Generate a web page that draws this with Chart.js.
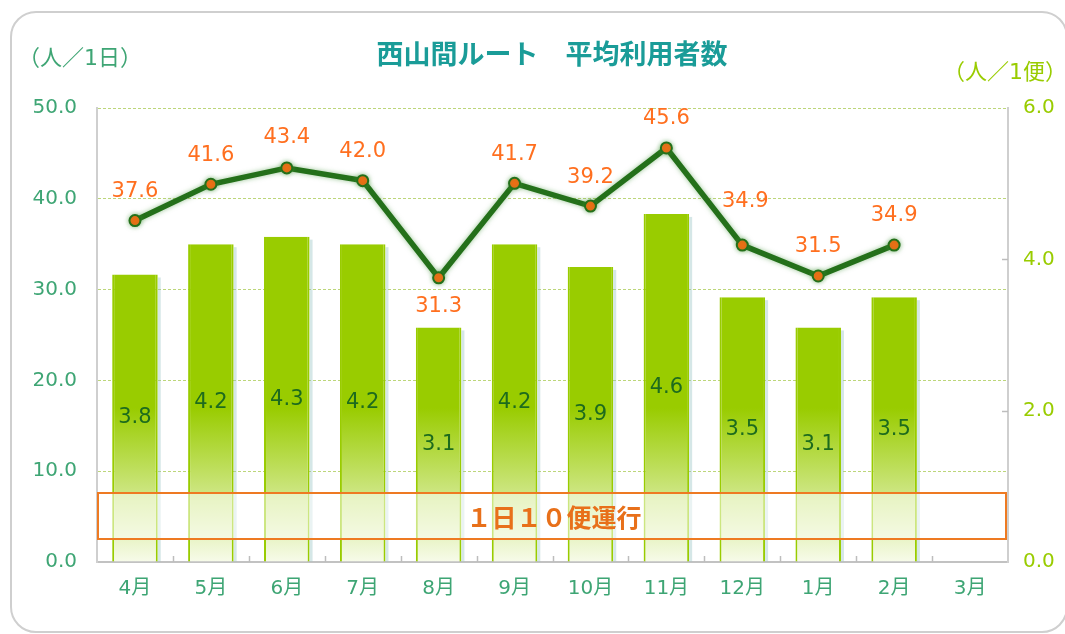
<!DOCTYPE html>
<html>
<head>
<meta charset="utf-8">
<script src="https://cdn.jsdelivr.net/npm/chart.js@4.4.1/dist/chart.umd.min.js"></script>
<style>
  html, body { margin: 0; padding: 0; background: #fff; }
  #wrap { position: relative; width: 1065px; height: 634px; overflow: hidden; }
  #frame { position: absolute; left: 10px; top: 11px; width: 1058px; height: 622px;
           border: 2px solid #cfcfcf; border-radius: 26px; box-sizing: border-box; }
  canvas { position: absolute; left: 0; top: 0; }
</style>
</head>
<body>
<div id="wrap">
  <div id="frame"></div>
  <canvas id="myChart" width="1065" height="634"></canvas>
</div>
<script>
const months = ['4月', '5月', '6月', '7月', '8月', '9月', '10月', '11月', '12月', '1月', '2月', '3月'];
const perDay = [37.6, 41.6, 43.4, 42.0, 31.3, 41.7, 39.2, 45.6, 34.9, 31.5, 34.9, null];   // 人／1日
const perTrip = [3.8, 4.2, 4.3, 4.2, 3.1, 4.2, 3.9, 4.6, 3.5, 3.1, 3.5, null];             // 人／1便
const chartTitle = '西山間ルート　平均利用者数';
const leftUnit = '（人／1日）';
const rightUnit = '（人／1便）';
const noteText = '１日１０便運行';

// where each line label sits relative to its point (px, negative = above)
const lineLabelShift = [-29, -29, -30, -29, 29, -29, -29, -29, -44, -29, -30, -29];

const FONT = '"DejaVu Sans", "Noto Sans CJK JP", sans-serif';
const CJK = '"Noto Sans CJK JP", sans-serif';
const TEAL = '#3ea574';
const LIME = '#99cc00';
const LINE_GREEN = '#24701a';

// bar fill fades out toward the bottom of the plot area
function barFill(context) {
    const area = context.chart.chartArea;
    if (!area) return LIME;
    const g = context.chart.ctx.createLinearGradient(0, area.top + 300, 0, area.bottom);
    g.addColorStop(0, LIME);
    g.addColorStop(1, '#f7fbea');
    return g;
}

const extras = {
    id: 'extras',
    beforeDatasetDraw(chart, args) {
        const ctx = chart.ctx;
        if (args.index === 0) {
            // soft glow on the line
            ctx.save();
            ctx.shadowColor = 'rgba(70,150,60,0.55)';
            ctx.shadowBlur = 5;
        } else {
            // faint shadow on the right side of bars
            ctx.save();
            ctx.fillStyle = 'rgba(150,195,195,0.4)';
            chart.getDatasetMeta(1).data.forEach(function(bar, i) {
                if (perTrip[i] == null) return;
                ctx.fillRect(bar.x + bar.width / 2, bar.y + 3, 3, bar.base - bar.y - 3);
            });
            ctx.restore();
        }
    },
    afterDatasetDraw(chart, args) {
        if (args.index === 0) chart.ctx.restore();
    },
    afterDatasetsDraw(chart) {
        const ctx = chart.ctx;
        const area = chart.chartArea;

        // note box
        ctx.save();
        const bx = area.left + 1, by = 493, bw = area.right - area.left - 3, bh = 46;
        ctx.fillStyle = 'rgba(255,255,255,0.5)';
        ctx.fillRect(bx, by, bw, bh);
        ctx.strokeStyle = '#ee7a22';
        ctx.lineWidth = 2;
        ctx.strokeRect(bx, by, bw, bh);
        ctx.fillStyle = '#e8701a';
        ctx.font = 'bold 25px ' + CJK;
        ctx.textAlign = 'center';
        ctx.textBaseline = 'middle';
        ctx.fillText(noteText, 554, by + bh / 2 + 1);
        ctx.restore();

        // bar labels
        ctx.save();
        ctx.font = '21px ' + FONT;
        ctx.fillStyle = '#1d6b1d';
        ctx.textAlign = 'center';
        ctx.textBaseline = 'middle';
        chart.getDatasetMeta(1).data.forEach(function(bar, i) {
            if (perTrip[i] == null) return;
            ctx.fillText(perTrip[i].toFixed(1), bar.x, (bar.y + bar.base) / 2);
        });
        ctx.restore();

        // line labels
        ctx.save();
        ctx.font = '21px ' + FONT;
        ctx.fillStyle = '#ff6f1f';
        ctx.textAlign = 'center';
        ctx.textBaseline = 'middle';
        chart.getDatasetMeta(0).data.forEach(function(pt, i) {
            if (perDay[i] == null) return;
            ctx.fillText(perDay[i].toFixed(1), pt.x + (i === 8 ? 3 : 0), pt.y + lineLabelShift[i]);
        });
        ctx.restore();

        // small tick marks between categories, pointing up from the bottom axis
        ctx.save();
        ctx.strokeStyle = '#bdbdbd';
        ctx.lineWidth = 1.5;
        const step = (area.right - area.left) / months.length;
        for (let i = 1; i < months.length; i++) {
            const x = Math.round(area.left + step * i) + 0.5;
            ctx.beginPath();
            ctx.moveTo(x, area.bottom);
            ctx.lineTo(x, area.bottom - 6);
            ctx.stroke();
        }
        // right-axis ticks
        const yR = chart.scales.y1;
        [2, 4].forEach(function(v) {
            const y = Math.round(yR.getPixelForValue(v)) + 0.5;
            ctx.beginPath();
            ctx.moveTo(area.right, y);
            ctx.lineTo(area.right - 6, y);
            ctx.stroke();
        });
        ctx.restore();

        // titles
        ctx.save();
        ctx.textBaseline = 'middle';
        ctx.font = 'bold 27px ' + CJK;
        ctx.fillStyle = '#1a9c98';
        ctx.textAlign = 'center';
        ctx.fillText(chartTitle, 552, 54);
        ctx.font = '22px ' + FONT;
        ctx.fillStyle = TEAL;
        ctx.textAlign = 'left';
        ctx.fillText(leftUnit, 18, 59);
        ctx.fillStyle = LIME;
        ctx.textAlign = 'right';
        ctx.fillText(rightUnit, 1067, 73);
        ctx.restore();
    }
};

const ctx = document.getElementById('myChart').getContext('2d');
new Chart(ctx, {
    data: {
        labels: months,
        datasets: [{
            type: 'line',
            data: perDay,
            yAxisID: 'y',
            order: 0,
            borderColor: LINE_GREEN,
            borderWidth: 5.5,
            tension: 0,
            pointRadius: 5.5,
            pointBackgroundColor: '#ff6a10',
            pointBorderColor: LINE_GREEN,
            pointBorderWidth: 2,
            spanGaps: false
        }, {
            type: 'bar',
            data: perTrip,
            yAxisID: 'y1',
            order: 1,
            backgroundColor: barFill,
            borderColor: LIME,
            borderWidth: { left: 2, right: 2, top: 0, bottom: 0 },
            borderSkipped: false,
            barPercentage: 0.6,
            categoryPercentage: 1.0
        }]
    },
    options: {
        responsive: false,
        animation: false,
        layout: { padding: { top: 108, left: 0, right: 0, bottom: 0 } },
        plugins: { legend: { display: false }, tooltip: { enabled: false }, title: { display: false } },
        scales: {
            x: {
                offset: true,
                grid: { display: true, drawOnChartArea: false, drawTicks: false },
                border: { color: '#c2c2c2', width: 2 },
                ticks: { color: TEAL, font: { family: FONT, size: 20 }, padding: 15 },
                afterFit(scale) { scale.height = 72; }
            },
            y: {
                position: 'left',
                min: 0, max: 50,
                ticks: { stepSize: 10, color: TEAL, font: { family: FONT, size: 20 }, padding: 20,
                         callback: v => v.toFixed(1) },
                grid: { color: '#bcd67a', lineWidth: 1, drawTicks: false },
                border: { color: '#cfcfcf', width: 2, dash: [3, 2] },
                afterFit(scale) { scale.width = 97; }
            },
            y1: {
                position: 'right',
                min: 0, max: 6,
                ticks: { stepSize: 2, color: LIME, font: { family: FONT, size: 20 }, padding: 15,
                         callback: v => v.toFixed(1) },
                grid: { drawOnChartArea: false, drawTicks: false },
                border: { color: '#cfcfcf', width: 2 },
                afterFit(scale) { scale.width = 57; }
            }
        }
    },
    plugins: [extras]
});
</script>
</body>
</html>
